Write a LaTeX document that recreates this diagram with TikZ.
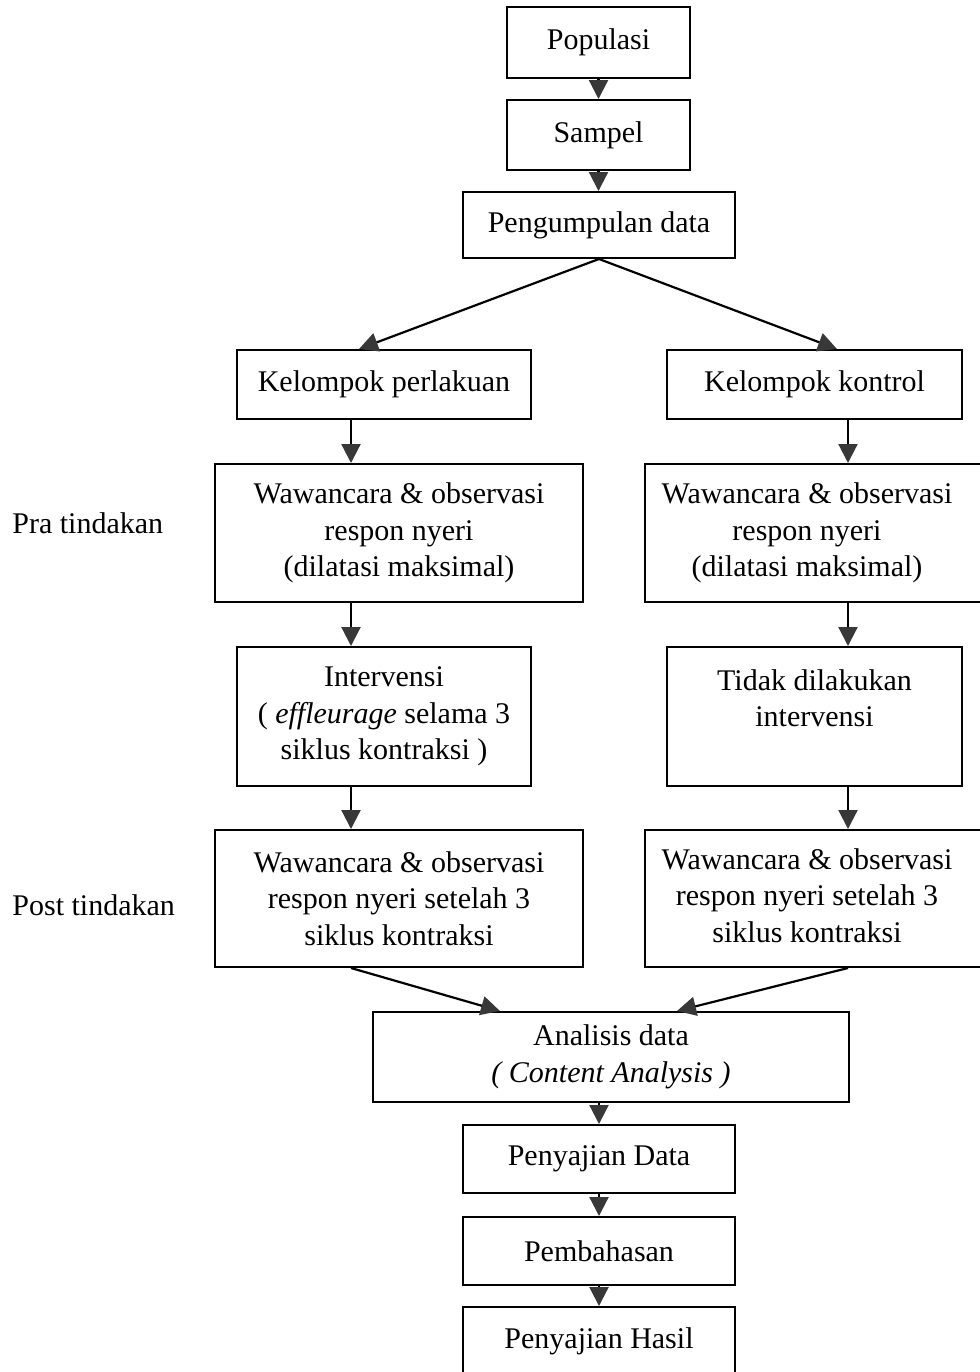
\documentclass[tikz,border=0pt]{standalone}
\usepackage{fontspec}
\setmainfont{Liberation Serif}
\usetikzlibrary{arrows.meta, positioning, calc}

\begin{document}
\begin{tikzpicture}[x=0.5pt, y=-0.5pt,
    frame/.style={draw, line width=1pt, inner sep=0pt, font=\fontsize{15}{18.25}\selectfont},
    box/.style={frame, align=center},
    lbl/.style={inner sep=0pt, font=\fontsize{15}{18.25}\selectfont},
    arr/.style={line width=1.1pt, -{Triangle[width=9.5pt, length=9.5pt, color=black!78]}}]
        % Page size of the scan
        \useasboundingbox (0,0) rectangle (980,1372);
        \clip (0,0) rectangle (980,1372);
        % Top of the flow
        \node[box, minimum width=91.5pt, minimum height=35.5pt] (pop) at (598.5,42.5) {Populasi};
        \node[box, minimum width=91.5pt, minimum height=35pt] (sam) at (598.5,135) {Sampel};
        \node[box, minimum width=136pt, minimum height=33pt] (peng) at (599,225) {Pengumpulan data};
        % The two groups
        \node[box, minimum width=147pt, minimum height=34.5pt] (kp) at (384,384.5) {Kelompok perlakuan};
        \node[box, minimum width=147.5pt, minimum height=34.5pt] (kk) at (814.5,384.5) {Kelompok kontrol};
        % Pra tindakan row
        \node[lbl, anchor=west] (pra) at (12,523) {Pra tindakan};
        \node[box, minimum width=184pt, minimum height=69pt] (wpraL) at (399,533) {Wawancara \& observasi\\respon nyeri\\(dilatasi maksimal)};
        \node[frame, minimum width=184pt, minimum height=69pt] (wpraR) at (829,533)
            {\begin{tabular}{@{}c@{}}Wawancara \& observasi\\respon nyeri\\(dilatasi maksimal)\end{tabular}\hspace*{22pt}};
        % Intervention row
        \node[box, minimum width=147pt, minimum height=69.5pt] (intL) at (384,716.5) {Intervensi\\( \textit{effleurage} selama 3\\siklus kontraksi )};
        \node[box, minimum width=147.5pt, minimum height=69.5pt] (intR) at (814.5,716.5) {Tidak dilakukan\\intervensi\\\mbox{}};
        % Post tindakan row
        \node[lbl, anchor=west] (post) at (12,905) {Post tindakan};
        \node[box, minimum width=184pt, minimum height=68.5pt] (wpostL) at (399,898.5) {Wawancara \& observasi\\respon nyeri setelah 3\\siklus kontraksi};
        \node[frame, minimum width=184pt, minimum height=68.5pt] (wpostR) at (829,898.5)
            {\begin{tabular}{@{}c@{}}Wawancara \& observasi\\respon nyeri setelah 3\\siklus kontraksi\end{tabular}\hspace*{22pt}};
        % Bottom of the flow
        \node[box, minimum width=238pt, minimum height=45pt] (ana) at (611,1057) {Analisis data\\\textit{( Content Analysis )}};
        \node[box, minimum width=136pt, minimum height=34pt] (pd) at (599,1159) {Penyajian Data};
        \node[box, minimum width=136pt, minimum height=34pt] (pb) at (599,1251) {Pembahasan};
        \node[box, minimum width=136pt, minimum height=34pt] (ph) at (599,1341) {Penyajian Hasil};
        % Columns of the vertical arrows
        \coordinate (colL) at (351,0);
        \coordinate (colR) at (848,0);
        % Arrows
        \draw[arr] (pop) -- (sam);
        \draw[arr] (sam) -- (sam |- peng.north);
        \draw[arr] (peng.south) -- ([xshift=-12.5pt]kp.north);
        \draw[arr] (peng.south) -- ([xshift=11.25pt]kk.north);
        \draw[arr] (kp.south -| colL) -- (wpraL.north -| colL);
        \draw[arr] (kk.south -| colR) -- (wpraR.north -| colR);
        \draw[arr] (wpraL.south -| colL) -- (intL.north -| colL);
        \draw[arr] (wpraR.south -| colR) -- (intR.north -| colR);
        \draw[arr] (intL.south -| colL) -- (wpostL.north -| colL);
        \draw[arr] (intR.south -| colR) -- (wpostR.north -| colR);
        \draw[arr] (wpostL.south -| colL) -- ([xshift=-55.5pt]ana.north);
        \draw[arr] (wpostR.south -| colR) -- ([xshift=33pt]ana.north);
        \draw[arr] (ana.south -| pd.north) -- (pd.north);
        \draw[arr] (pd) -- (pb);
        \draw[arr] (pb) -- (ph);
    \end{tikzpicture}
\end{document}
